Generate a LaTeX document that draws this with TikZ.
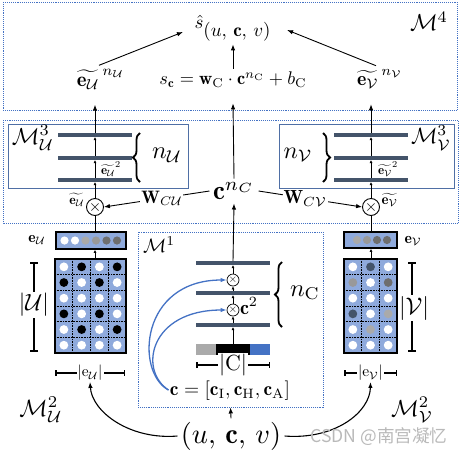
\RequirePackage{fix-cm}
\documentclass[tikz,border=0pt]{standalone}
\usepackage{amsmath,amssymb,graphicx}
\usepackage{fontspec}
\newfontfamily\cjk{Noto Sans CJK SC}
\usetikzlibrary{arrows.meta,decorations.pathreplacing,calc}
\definecolor{lb}{HTML}{8FAADC}
\definecolor{barc}{HTML}{44546A}
\definecolor{bl}{HTML}{4472C4}
\definecolor{boxb}{HTML}{4F6FA5}
\definecolor{g1}{HTML}{AAAAAA}
\definecolor{g2}{HTML}{999999}
\definecolor{g3}{HTML}{6E6E6E}
\definecolor{dk}{HTML}{44546A}
\newcommand\fw[2]{\resizebox{#1pt}{!}{#2}}
\begin{document}
\begin{tikzpicture}[x=1pt,y=-1pt,
  dotbox/.style={draw=bl, densely dotted, line width=0.9pt},
  m3/.style={draw=boxb, line width=1pt, inner sep=0pt},
  layer/.style={fill=barc, minimum width=74pt, minimum height=3.6pt, inner sep=0pt},
  arr/.style={-{Latex[length=6pt,width=4.5pt]}, line width=0.9pt},
  sarr/.style={-{Latex[length=3pt,width=3pt]}, line width=0.9pt},
  barrow/.style={-{Latex[length=6pt,width=4.5pt]}, line width=1.3pt, draw=bl},
  otm/.style={circle, draw, line width=0.9pt, minimum size=17pt, inner sep=0pt},
  sotm/.style={circle, draw, line width=0.7pt, minimum size=12pt, inner sep=0pt},
  dimbar/.style={line width=1.8pt, {Bar[width=8pt]}-{Bar[width=8pt]}},
  sdimbar/.style={line width=1.5pt, {Bar[width=6pt]}-{Bar[width=6pt]}},
  brc/.style={decorate, decoration={brace, amplitude=7pt}, line width=1.8pt},
  mat/.style={draw, line width=1.8pt, fill=lb, inner sep=0pt},
  wl/.style={fill=white, inner sep=1pt},
  grid/.style={densely dotted, line width=0.6pt},
]
\useasboundingbox (0,0) rectangle (462,453);

% ---- dotted boxes
\draw[dotbox] (3,2) rectangle (457,110);
\draw[dotbox] (3,120) rectangle (458,223);
\node[dotbox, minimum width=185pt, minimum height=175pt, inner sep=0pt] (M1) at (230.5,319.5) {};
\node[m3, minimum width=180pt, minimum height=64pt] (BU) at (98,156) {};
\node[m3, minimum width=175pt, minimum height=64pt] (BV) at (366.5,156) {};

% ---- top
\node (M4) at (429,21) {\fw{38}{$\mathcal M^4$}};
\node (shat) at (233,28) {\fw{77}{$\hat s_{\textstyle(u,\,\mathbf c,\,v)}$}};
\node (eun) at (101,79) {\fw{48}{$\widetilde{\mathbf e_{\mathcal U}}^{\,n_{\mathcal U}}$}};
\node (sc) at (233,80) {\fw{147}{$s_{\mathbf c}=\mathbf w_{\mathrm C}\cdot\mathbf c^{n_{\mathrm C}}+b_{\mathrm C}$}};
\node (evn) at (380,79) {\fw{46}{$\widetilde{\mathbf e_{\mathcal V}}^{\,n_{\mathcal V}}$}};
\draw[arr] ($(eun.north)+(-2,0)$) -- ($(shat.west)+(-8,4)$);
\draw[arr] (sc.north) -- (shat.south);
\draw[arr] ($(evn.north)+(-4,0)$) -- ($(shat.east)+(12,2)$);

% ---- M3 U
\node[layer] (U1) at (95,135) {};
\node[layer] (U2) at (95,158) {};
\node[layer] (U3) at (95,180) {};
\node (MU3) at (33,138) {\fw{42}{$\mathcal M^3_{\mathcal U}$}};
\node (eu2) at (111,169) {\fw{20}{$\widetilde{\mathbf e_{\mathcal U}}^{2}$}};
\draw[brc] (140,182) -- (140,133);
\node (nU) at (167,155) {\fw{30}{$n_{\mathcal U}$}};
% ---- M3 V
\node[layer] (V1) at (371,135) {};
\node[layer] (V2) at (371,158) {};
\node[layer] (V3) at (371,180) {};
\node (MV3) at (431,138) {\fw{40}{$\mathcal M^3_{\mathcal V}$}};
\node (ev2) at (388,169) {\fw{20}{$\widetilde{\mathbf e_{\mathcal V}}^{2}$}};
\draw[brc] (323,133) -- (323,182);
\node (nV) at (298,155) {\fw{29}{$n_{\mathcal V}$}};

% ---- otimes and c^n
\node[otm] (otU) at (95,207) {\fontsize{16}{16}\selectfont$\times$};
\node[otm] (otV) at (371,207) {\fontsize{16}{16}\selectfont$\times$};
\node (cn) at (234,191) {\fw{42}{$\mathbf c^{n_C}$}};
\node[anchor=east, inner sep=0.5pt] (euT) at ($(otU.west)+(-1,-7)$) {\fw{15}{$\widetilde{\mathbf e_{\mathcal U}}$}};
\node[anchor=west, inner sep=0.5pt] (evT) at ($(otV.east)+(1,-7)$) {\fw{16}{$\widetilde{\mathbf e_{\mathcal V}}$}};
\draw[arr] (cn.west) -- node[wl, pos=0.45]{\fw{41}{$\mathbf W_{C\mathcal U}$}} (otU.east);
\draw[arr] (cn.east) -- node[wl, pos=0.45]{\fw{43}{$\mathbf W_{C\mathcal V}$}} (otV.west);

\draw[sarr] (otU.north) -- (U3.south);
\draw[sarr] (U3.north) -- (U2.south);
\draw[sarr] (U2.north) -- (U1.south);
\draw[arr] (U1.north) -- ($(U1.north |- eun.south)+(0,12)$);
\draw[sarr] (otV.north) -- (V3.south);
\draw[sarr] (V3.north) -- (V2.south);
\draw[sarr] (V2.north) -- (V1.south);
\draw[arr] (V1.north) -- ($(V1.north |- evn.south)+(0,12)$);
\draw[arr] (cn.north) -- ($(sc.south)+(0,12)$);

% ---- U side
\node[mat, minimum width=70pt, minimum height=17pt] (vU) at (91,240.5) {};
\foreach \c [count=\i] in {white,white,g1,g2,g3,g3}
  \fill[\c] (54+10.5*\i, 240.5) circle (4.1);
\node[mat, minimum width=71pt, minimum height=94pt] (mU) at (90.5,306) {};
\foreach \j in {1,2,3} \draw[grid] (55+17.75*\j,259) -- (55+17.75*\j,353);
\foreach \r in {1,...,5} \draw[grid] (55,259+15.67*\r) -- (126,259+15.67*\r);
\foreach \row [count=\r] in {{white,black,white,black},{black,white,black,white},{white,white,white,white},{black,white,black,white},{white,black,white,black},{white,white,white,white}}
  \foreach \c [count=\j] in \row
    \fill[\c] (55+17.75*\j-8.875, 259+15.67*\r-7.83) circle (4.4);
\draw (otU.south) -- (otU.south |- vU.north);
\draw[sarr] (otU.south |- mU.north) -- (otU.south |- vU.south);
\node (eUt) at (37,240) {\fw{17}{$\mathbf e_{\mathcal U}$}};
\draw[dimbar] (34,262) -- (34,352);
\node[wl] (Ul) at (34,305) {\fw{30}{$|\mathcal U|$}};
\draw[sdimbar] (55,373) -- (125,373);
\node[wl] (eUl) at (90,373) {\fw{25}{$|\mathrm e_{\mathcal U}|$}};
\node (MU2) at (41,410) {\fw{43}{$\mathcal M^2_{\mathcal U}$}};

% ---- V side
\node[mat, minimum width=53pt, minimum height=16pt] (vV) at (370.5,240) {};
\foreach \c [count=\i] in {g1,g2,g3,g3}
  \fill[\c] (347+10*\i, 240) circle (4.1);
\node[mat, minimum width=53pt, minimum height=94pt] (mV) at (370.5,306) {};
\foreach \j in {1,2} \draw[grid] (344+17.67*\j,259) -- (344+17.67*\j,353);
\foreach \r in {1,...,5} \draw[grid] (344,259+15.67*\r) -- (397,259+15.67*\r);
\foreach \row [count=\r] in {{white,dk,white},{g2,white,g3},{white,white,white},{dk,white,g1},{white,g1,white},{white,white,white}}
  \foreach \c [count=\j] in \row
    \fill[\c] (344+17.67*\j-8.83, 259+15.67*\r-7.83) circle (4.4);
\draw (otV.south) -- (otV.south |- vV.north);
\draw[sarr] (otV.south |- mV.north) -- (otV.south |- vV.south);
\node (eVt) at (413,241) {\fw{17}{$\mathbf e_{\mathcal V}$}};
\draw[dimbar] (412,262) -- (412,352);
\node[wl] (Vl) at (414,308) {\fw{30}{$|\mathcal V|$}};
\draw[sdimbar] (344,373) -- (397,373);
\node[wl] (eVl) at (370.5,373) {\fw{25}{$|\mathrm e_{\mathcal V}|$}};
\node (MV2) at (412,410) {\fw{42}{$\mathcal M^2_{\mathcal V}$}};

% ---- M1
\node (M1l) at (159,245) {\fw{32}{$\mathcal M^1$}};
\node[layer] (C1) at (233,263) {};
\node[layer] (C2) at (233,293) {};
\node[layer] (C3) at (233,325) {};
\node[sotm] (o1) at (233,280) {\fontsize{11}{11}\selectfont$\times$};
\node[sotm] (o2) at (233,310) {\fontsize{11}{11}\selectfont$\times$};
\node (c2) at (249,306) {\fw{18}{$\mathbf c^2$}};
\node[minimum width=74pt, minimum height=11pt, inner sep=0pt] (cb) at (233,349.5) {};
\fill[g1] (cb.south west) rectangle ($(cb.north west)+(20,0)$);
\fill[black] ($(cb.south west)+(20,0)$) rectangle ($(cb.north west)+(54,0)$);
\fill[bl] ($(cb.south west)+(54,0)$) rectangle (cb.north east);
\draw[sarr] (cb.north) -- (C3.south);
\draw[sarr] (C3.north) -- (o2.south);
\draw[sarr] (o2.north) -- (C2.south);
\draw[sarr] (C2.north) -- (o1.south);
\draw[sarr] (o1.north) -- (C1.south);
\draw[arr] (C1.north) -- (cn.south);
\draw[brc] (282,327) -- (282,262);
\node (nC) at (305,293) {\fw{30}{$n_{\mathrm C}$}};
\draw[sdimbar] (196,365) -- (270,365);
\node[wl] (Cl) at (233,365) {\fw{28}{$|\mathrm C|$}};
\node (ceq) at (230,391) {\fw{120}{$\mathbf c=[\mathbf c_{\mathrm I},\mathbf c_{\mathrm H},\mathbf c_{\mathrm A}]$}};
\draw[barrow] ($(ceq.west)+(2,-1)$) .. controls (135,372) and (140,280) .. (o1.west);
\draw[barrow] ($(ceq.west)+(2,-1)$) .. controls (138,370) and (150,310) .. (o2.west);

% ---- bottom
\node (ucv) at (231,436) {\fw{100}{$(u,\,\mathbf c,\,v)$}};
\draw[arr] (ucv.north) -- (M1.south);
\draw[arr, line width=1.1pt] (ucv.west) .. controls (130,440) and (92,412) .. (eUl.south);
\draw[arr, line width=1.1pt] (ucv.east) .. controls (335,440) and (370,412) .. (eVl.south);
\node[text=gray!55] (wm) at (379,437) {\fw{137}{\cjk CSDN @南宫凝忆}};
\end{tikzpicture}
\end{document}
